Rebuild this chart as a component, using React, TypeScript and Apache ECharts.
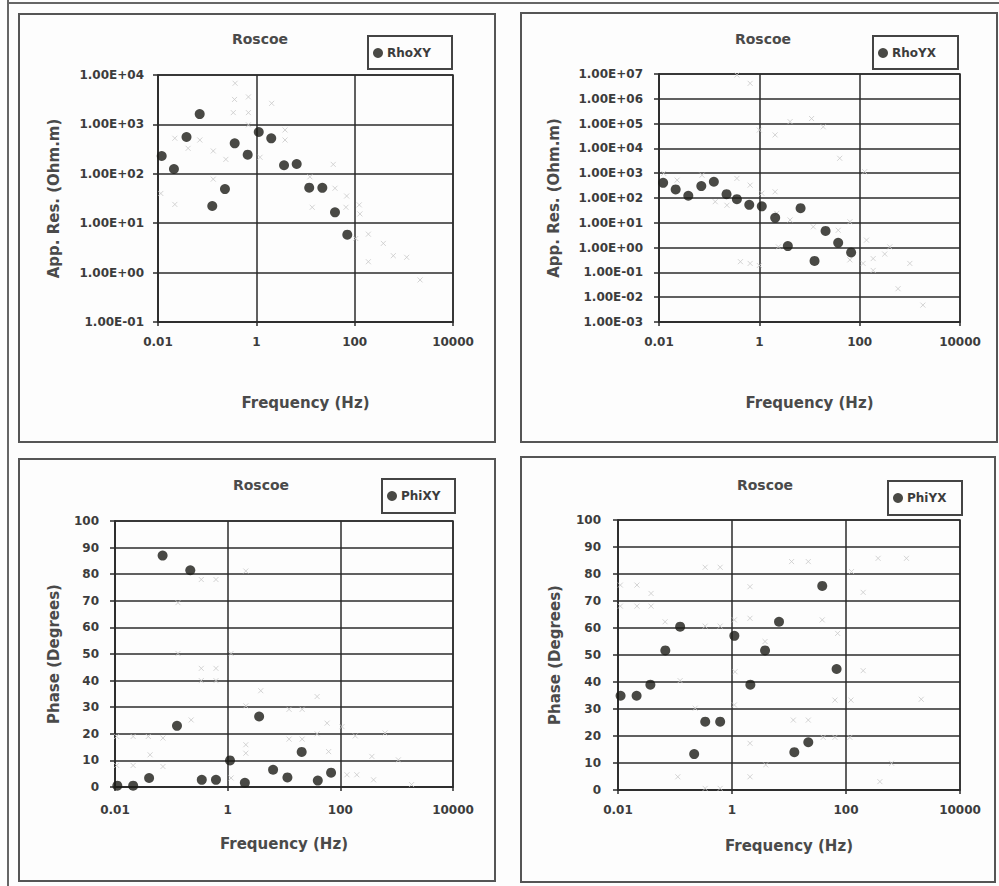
import React, { useEffect, useRef } from "react";
import * as echarts from "echarts";

const FONT = "DejaVu Sans";

const panelTitle = "Roscoe";
const xName = "Frequency (Hz)";
const resName = "App. Res. (Ohm.m)";
const phaseName = "Phase (Degrees)";
const seriesNames = ["RhoXY", "RhoYX", "PhiXY", "PhiYX"];

// Apparent resistivity XY
const rhoXYFreq = [0.0119, 0.0211, 0.038, 0.0705, 0.127, 0.23, 0.363, 0.667, 1.12, 2.01, 3.66, 6.62, 11.9, 22, 39.8, 70.8];
const rhoXYVal = [229, 125, 556, 1620, 22.3, 49, 414, 244, 702, 522, 149, 158, 52.4, 52, 16.6, 5.85];
// Apparent resistivity YX
const rhoYXFreq = [0.0121, 0.0215, 0.0384, 0.0697, 0.124, 0.222, 0.357, 0.63, 1.12, 2.07, 3.7, 6.64, 12.6, 20.9, 37.3, 67.6];
const rhoYXVal = [410, 222, 123, 302, 451, 143, 90, 53, 46, 15.8, 1.15, 39, 0.29, 4.7, 1.56, 0.64];
// Phase XY
const phiXYFreq = [0.011, 0.021, 0.0403, 0.07, 0.126, 0.217, 0.347, 0.62, 1.1, 2.02, 3.62, 6.4, 11.5, 20.6, 39.8, 68.5];
const phiXYVal = [0.5, 0.5, 3.4, 87, 23, 81.5, 2.7, 2.7, 10, 1.6, 26.5, 6.5, 3.6, 13.2, 2.4, 5.4];
// Phase YX
const phiYXFreq = [0.0111, 0.0212, 0.037, 0.0676, 0.123, 0.217, 0.339, 0.62, 1.1, 2.1, 3.8, 6.68, 12.4, 21.8, 38.3, 68.4];
const phiYXVal = [34.9, 34.9, 39, 51.7, 60.5, 13.3, 25.3, 25.3, 57.1, 39, 51.7, 62.3, 14, 17.7, 75.6, 44.8];

// faint "x" marks showing through the scan
const faintTLFreq = [0.37, 0.36, 0.69, 0.34, 0.69, 2.05, 0.022, 0.071, 0.041, 0.133, 0.24, 1.19, 3.83, 3.83, 36.7, 0.133, 0.0114, 0.022, 12.3, 13.7, 39.8, 68.7, 66.5, 124, 128, 190, 383, 611, 1143, 190, 2140, 105, 0.69];
const faintTLVal = [6800, 3200, 3600, 1730, 1730, 2670, 524, 483, 328, 290, 196, 216, 771, 483, 155, 78, 40, 24, 87, 21, 51, 35.5, 21, 23.5, 15.4, 6, 3.9, 2.2, 2.04, 1.66, 0.71, 4.9, 980];
const faintTRFreq = [0.357, 0.656, 1.0, 2.06, 4.1, 11, 18.8, 40, 126, 0.0124, 0.023, 0.072, 0.357, 0.656, 2.06, 0.132, 0.226, 1.12, 2.23, 4.1, 11.9, 37.4, 63.8, 137, 398, 316, 186, 117, 186, 1000, 582, 1820, 0.42, 1.0, 0.656, 63.8, 2.4];
const faintTRVal = [9.1e6, 4.2e6, 5.5e4, 3.5e4, 1.2e5, 1.6e5, 7.4e4, 4000, 1150, 980, 525, 830, 615, 330, 178, 71, 51, 155, 24, 13, 6.9, 5, 11, 2, 1.07, 0.55, 0.36, 0.23, 0.12, 0.23, 0.022, 0.0048, 0.27, 0.19, 0.23, 0.32, 1.07];
const faintBLFreq = [2.1, 0.34, 0.62, 0.131, 0.131, 1.15, 0.34, 0.62, 0.34, 0.62, 3.87, 2.1, 12.3, 21, 38.7, 0.225, 0.0107, 0.021, 0.039, 0.071, 58.2, 107, 184, 622, 12.3, 21, 38.7, 2.1, 2.1, 62, 0.042, 0.0107, 0.021, 0.071, 1.15, 131, 196, 363, 1072, 389, 1836];
const faintBLVal = [81.2, 78, 78, 69.3, 50.2, 50.2, 44.6, 44.6, 40, 40, 36.2, 30.5, 29.2, 29.2, 34, 25.2, 19, 19, 19, 18.4, 24, 22.7, 19.2, 20.3, 18, 18, 20, 15.9, 12.7, 13.3, 12.1, 8.1, 8.1, 7.7, 3.4, 4.6, 4.6, 11.5, 10.2, 2.7, 0.9];
const faintBRFreq = [0.338, 0.62, 0.011, 0.0215, 0.038, 0.011, 0.0215, 0.038, 0.067, 0.338, 0.62, 1.1, 2.07, 2.07, 11.1, 21.8, 125, 200, 366, 1150, 38.3, 71.3, 3.8, 1.13, 200, 0.123, 0.226, 1.1, 64, 122, 2090, 11.9, 21.8, 39.8, 64, 117, 2.07, 3.9, 630, 0.112, 2.07, 393, 0.338, 0.62];
const faintBRVal = [82.5, 82.5, 75.9, 75.9, 72.8, 68.1, 68.1, 68.1, 62.3, 60.7, 60.7, 63, 63.6, 75.3, 84.6, 84.6, 80.9, 73.2, 85.8, 85.8, 63, 58, 55, 43.8, 44.2, 40.5, 30.3, 31.5, 33.3, 33.3, 33.6, 25.9, 25.9, 19.5, 19.5, 19.5, 17.3, 9.3, 9.9, 4.9, 4.9, 3.1, 0.6, 0.6];

const zip = (a: number[], b: number[]) => a.map((v, i) => [v, b[i]]);

const expLabel = (v: number) => {
  const e = Math.round(Math.log10(v));
  return "1.00E" + (e < 0 ? "-" : "+") + String(Math.abs(e)).padStart(2, "0");
};
const freqLabel = (v: number) => (v >= 1 ? String(Math.round(v)) : String(+v.toPrecision(2)));

const GRID_COLOR = "#2b2b2b";
const TEXT_COLOR = "#3c3c3c";
const DOT_COLOR = "#1c1c16";
const FAINT_COLOR = "#c9c9c9";

const grids = [
  { left: 158, top: 75, width: 295, height: 247 },
  { left: 659, top: 74, width: 301, height: 248 },
  { left: 115, top: 521, width: 338, height: 266 },
  { left: 618, top: 520, width: 342, height: 270 },
];

const frames = [
  { x: 19, y: 14, w: 476, h: 428 },
  { x: 521, y: 13, w: 476, h: 429 },
  { x: 19, y: 459, w: 476, h: 422 },
  { x: 521, y: 457, w: 474, h: 425 },
];
const legendBoxes = [
  { x: 368, y: 36, w: 84, h: 33 },
  { x: 873, y: 36, w: 85, h: 33 },
  { x: 382, y: 479, w: 73, h: 34 },
  { x: 888, y: 481, w: 74, h: 34 },
];
const titleCenters = [
  { x: 255, y: 27 },
  { x: 758, y: 27 },
  { x: 256, y: 473 },
  { x: 760, y: 473 },
];

export default function App() {
  const ref = useRef<HTMLDivElement>(null);
  useEffect(() => {
    if (!ref.current) return;
    const chart = echarts.init(ref.current, null, { renderer: "svg" });

    const xAxisCfg = (gi: number, gap: number, margin: number) => ({
      type: "log",
      logBase: 100,
      gridIndex: gi,
      min: 0.01,
      max: 10000,
      splitNumber: 3,
      name: xName,
      nameLocation: "middle",
      nameGap: gap,
      nameTextStyle: { fontFamily: FONT, fontSize: 15, fontWeight: "bold", color: "#4a4a4a" },
      axisLine: { show: true, lineStyle: { color: GRID_COLOR, width: 1.5 } },
      axisTick: { show: true, length: 4, lineStyle: { color: GRID_COLOR, width: 1.5 } },
      axisLabel: {
        margin,
        interval: 0,
        formatter: freqLabel,
        fontFamily: FONT,
        fontSize: 12,
        fontWeight: "bold",
        color: TEXT_COLOR,
      },
      splitLine: { show: true, lineStyle: { color: GRID_COLOR, width: 1.5 } },
    });

    const yLabelStyle = (margin: number, formatter?: any) => ({
      margin,
      interval: 0,
      formatter,
      fontFamily: FONT,
      fontSize: 12,
      fontWeight: "bold",
      color: TEXT_COLOR,
    });
    const yCommon = (gi: number, name: string, gap: number) => ({
      gridIndex: gi,
      name,
      nameLocation: "middle",
      nameGap: gap,
      nameTextStyle: { fontFamily: FONT, fontSize: 15, fontWeight: "bold", color: "#4a4a4a" },
      axisLine: { show: true, lineStyle: { color: GRID_COLOR, width: 1.5 } },
      axisTick: { show: true, length: 5, lineStyle: { color: GRID_COLOR, width: 1.5 } },
      splitLine: { show: true, lineStyle: { color: GRID_COLOR, width: 1.5 } },
    });

    const dots = (name: string, gi: number, f: number[], v: number[]) => ({
      name,
      type: "scatter",
      xAxisIndex: gi,
      yAxisIndex: gi,
      data: zip(f, v),
      symbol: "circle",
      symbolSize: 10,
      itemStyle: { color: DOT_COLOR },
      z: 3,
    });
    const faint = (gi: number, f: number[], v: number[]) => ({
      name: "marks" + gi,
      type: "scatter",
      xAxisIndex: gi,
      yAxisIndex: gi,
      data: zip(f, v),
      symbol: "path://M0,0L10,10M10,0L0,10",
      symbolSize: 5,
      itemStyle: { color: "none", borderColor: FAINT_COLOR, borderWidth: 1 },
      silent: true,
      z: 2,
    });

    const graphics: any[] = [
      { type: "line", shape: { x1: 8, y1: 0, x2: 8, y2: 886 }, style: { stroke: "#666", lineWidth: 2 } },
      { type: "line", shape: { x1: 8, y1: 3, x2: 999, y2: 3 }, style: { stroke: "#666", lineWidth: 2 } },
    ];
    frames.forEach((f) =>
      graphics.push({
        type: "rect",
        shape: { x: f.x, y: f.y, width: f.w, height: f.h },
        style: { fill: "none", stroke: "#555", lineWidth: 2 },
      })
    );
    legendBoxes.forEach((b) =>
      graphics.push({
        type: "rect",
        shape: { x: b.x, y: b.y, width: b.w, height: b.h },
        style: { fill: "none", stroke: "#444", lineWidth: 2 },
      })
    );

    const option: any = {
      animation: false,
      backgroundColor: "#fdfdfd",
      title: titleCenters.map((t) => ({
        text: panelTitle,
        left: t.x,
        top: t.y,
        textAlign: "center",
        textStyle: { fontFamily: FONT, fontSize: 14, fontWeight: "bold", color: "#4a4a4a" },
      })),
      legend: seriesNames.map((n, i) => ({
        data: [n],
        left: legendBoxes[i].x + 5,
        top: legendBoxes[i].y + 11,
        padding: 0,
        itemWidth: 10,
        itemHeight: 10,
        itemGap: 0,
        icon: "circle",
        selectedMode: false,
        textStyle: { fontFamily: FONT, fontSize: 12, fontWeight: "bold", color: TEXT_COLOR, padding: [0, 0, 0, -1] },
      })),
      grid: grids.map((g) => ({ ...g, show: true, borderColor: GRID_COLOR, borderWidth: 1.5, backgroundColor: "transparent" })),
      xAxis: [xAxisCfg(0, 73, 14), xAxisCfg(1, 73, 14), xAxisCfg(2, 49, 17), xAxisCfg(3, 48, 14)],
      yAxis: [
        { ...yCommon(0, resName, 97), type: "log", logBase: 10, min: 0.1, max: 10000, splitNumber: 5, interval: 1, axisLabel: yLabelStyle(14, expLabel) },
        { ...yCommon(1, resName, 98), type: "log", logBase: 10, min: 0.001, max: 1e7, splitNumber: 10, interval: 1, axisLabel: yLabelStyle(16, expLabel) },
        { ...yCommon(2, phaseName, 54), type: "value", min: 0, max: 100, interval: 10, axisLabel: yLabelStyle(16) },
        { ...yCommon(3, phaseName, 56), type: "value", min: 0, max: 100, interval: 10, axisLabel: yLabelStyle(17) },
      ],
      series: [
        faint(0, faintTLFreq, faintTLVal),
        faint(1, faintTRFreq, faintTRVal),
        faint(2, faintBLFreq, faintBLVal),
        faint(3, faintBRFreq, faintBRVal),
        dots(seriesNames[0], 0, rhoXYFreq, rhoXYVal),
        dots(seriesNames[1], 1, rhoYXFreq, rhoYXVal),
        dots(seriesNames[2], 2, phiXYFreq, phiXYVal),
        dots(seriesNames[3], 3, phiYXFreq, phiYXVal),
      ],
      graphic: graphics,
    };
    chart.setOption(option);
    return () => chart.dispose();
  }, []);
  return <div ref={ref} style={{ position: "absolute", left: 0, top: 0, width: 999, height: 886 }} />;
}
